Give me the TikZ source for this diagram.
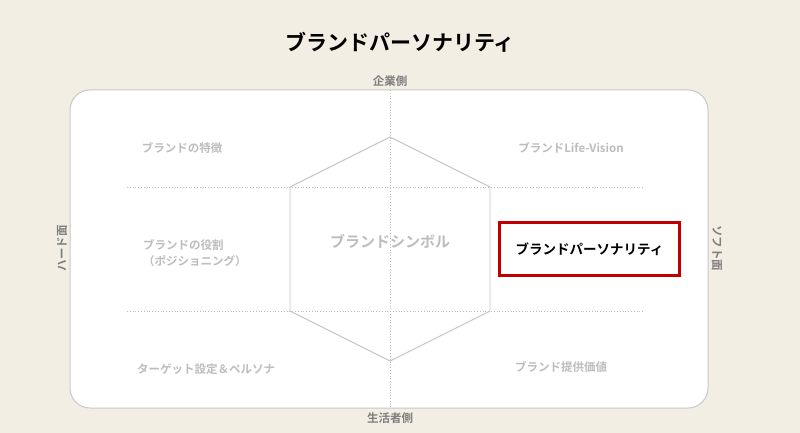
\documentclass[tikz,border=0pt]{standalone}
\usepackage{fontspec}
\setmainfont{Noto Sans CJK JP}[BoldFont={Noto Sans CJK JP Bold}]
\usepackage{xcolor}
\usetikzlibrary{positioning,calc}
\definecolor{bgcream}{HTML}{F2EEE3}
\definecolor{framegray}{HTML}{C8C8C8}
\definecolor{hexgray}{HTML}{C4C4C4}
\definecolor{labelgray}{HTML}{BDBDBD}
\definecolor{axisgray}{HTML}{7F7F7F}
\definecolor{accentred}{HTML}{C00000}
\tikzset{
    quadlabel/.style={text=labelgray,font=\bfseries\fontsize{11.5}{16}\selectfont,align=center},
    axislabel/.style={text=axisgray,font=\bfseries\fontsize{11.5}{14}\selectfont},
    gridline/.style={draw=labelgray,dotted,line width=0.8pt},
    hexline/.style={draw=hexgray,line width=0.9pt}
}

\begin{document}
\begin{tikzpicture}[x=1pt,y=-1pt]
    % background
    \fill[bgcream] (0,0) rectangle (800,433);
    \useasboundingbox (0,0) rectangle (800,433);

    % title
    \node[font=\bfseries\fontsize{21}{24}\selectfont] (title) at (400,42) {ブランドパーソナリティ};

    % frame
    \draw[framegray,fill=white,line width=1pt,rounded corners=20pt] (70,90) rectangle (708,408);

    % axes
    \coordinate (axtop) at (390,90);
    \coordinate (axbot) at (390,408);
    \coordinate (l1) at (127,187);
    \coordinate (r1) at (643,187);
    \coordinate (l2) at (127,311);
    \coordinate (r2) at (643,311);
    \draw[gridline] (axtop) -- (axbot);
    \draw[gridline] (l1) -- (r1);
    \draw[gridline] (l2) -- (r2);

    \node[axislabel] (company) at (390,81) {企業側};
    \node[axislabel] (consumer) at (390,418) {生活者側};
    \node[axislabel,rotate=90] (hard) at (62,248) {ハード面};
    \node[axislabel,rotate=-90] (soft) at (717,248) {ソフト面};

    % hexagon
    \coordinate (h1) at (390,137);
    \coordinate (h2) at (490,187);
    \coordinate (h3) at (490,311);
    \coordinate (h4) at (390,361);
    \coordinate (h5) at (290,311);
    \coordinate (h6) at (290,187);
    \draw[hexline] (h1) -- (h2) -- (h3) -- (h4) -- (h5) -- (h6) -- cycle;
    \node[text=labelgray,font=\bfseries\fontsize{15}{18}\selectfont] (symbol) at (390,241) {ブランドシンボル};

    % quadrant labels
    \node[quadlabel] (feature) at (182,148) {ブランドの特徴};
    \node[quadlabel] (vision) at (571,148) {ブランドLife-Vision};
    \node[quadlabel,align=left,anchor=west,inner sep=0pt] (role) at (143,253.5) {ブランドの役割\\（ポジショニング）};
    \node[quadlabel] (persona) at (206,369) {ターゲット設定＆ペルソナ};
    \node[quadlabel] (value) at (561,367) {ブランド提供価値};

    % highlighted box
    \node[draw=accentred,line width=2.5pt,minimum width=180pt,minimum height=53pt,
          font=\bfseries\fontsize{13.5}{16}\selectfont] (personality) at (589.5,249) {ブランドパーソナリティ};
\end{tikzpicture}
\end{document}
